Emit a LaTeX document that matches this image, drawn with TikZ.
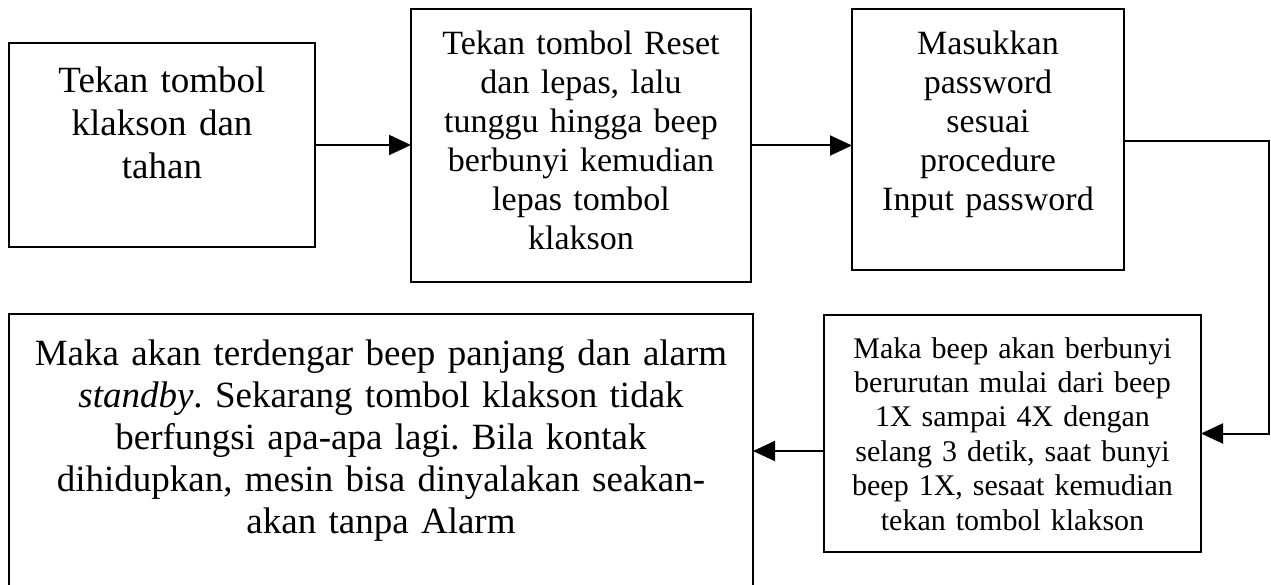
\documentclass[tikz,border=0pt]{standalone}
\usepackage{fontspec}
\setmainfont{Liberation Serif}
\usetikzlibrary{arrows.meta}
\frenchspacing

\begin{document}
\begin{tikzpicture}[x=1pt, y=-1pt,
    box/.style={draw, line width=2pt, inner sep=0pt, outer sep=0pt, anchor=north west, align=center},
    arrow/.style={line width=2pt, -{Triangle[length=22pt, width=20pt]}}]
    \useasboundingbox (0, 0) rectangle (1271, 585);
    \node[box, text width=306pt, text height=50pt, text depth=154pt, font={\fontsize{37}{43}\selectfont}] (hold) at (9, 43) {Tekan tombol\\ klakson dan\\ tahan};
    \node[box, text width=340pt, text height=46pt, text depth=227pt, font={\fontsize{34}{39}\selectfont}] (reset) at (411, 9) {Tekan tombol Reset\\ dan lepas, lalu\\ tunggu hingga beep\\ berbunyi kemudian\\ lepas tombol\\ klakson};
    \node[box, text width=272pt, text height=46pt, text depth=215pt, font={\fontsize{34}{39}\selectfont}] (password) at (852, 9) {Masukkan\\ password\\ sesuai\\ procedure\\ Input password};
    \node[box, text width=377pt, text height=43pt, text depth=194pt, font={\fontsize{30}{34.4}\selectfont}] (beep) at (824, 315) {Maka beep akan berbunyi\\ berurutan mulai dari beep\\ 1X sampai 4X dengan\\ selang 3 detik, saat bunyi\\ beep 1X, sesaat kemudian\\ tekan tombol klakson};
    \node[box, text width=744pt, text height=51pt, text depth=223pt, font={\fontsize{37}{42}\selectfont}] (standby) at (9, 314) {Maka akan terdengar beep panjang dan alarm\\ \textit{standby}. Sekarang tombol klakson tidak\\ berfungsi apa-apa lagi. Bila kontak\\ dihidupkan, mesin bisa dinyalakan seakan-\\ akan tanpa Alarm};
    \coordinate (corner) at (1269, 141);
    \draw[arrow] (hold.east) -- (hold.east -| reset.west);
    \draw[arrow] (reset.east) -- (reset.east -| password.west);
    \draw[arrow] (password.east |- corner) -- (corner) |- (beep.east);
    \draw[arrow] (beep.west |- standby.east) -- (standby.east);
\end{tikzpicture}
\end{document}
